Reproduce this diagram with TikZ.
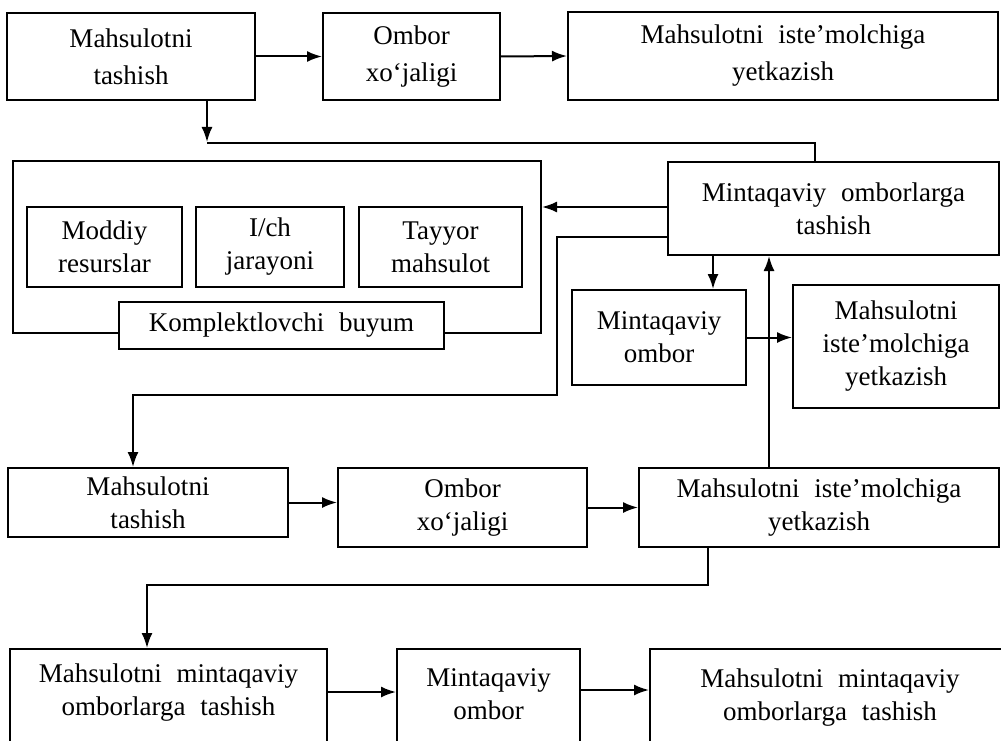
\documentclass[tikz,border=0pt]{standalone}
\usepackage{fontspec}
\setmainfont{Liberation Serif}
\usetikzlibrary{arrows.meta,calc}
\begin{document}
\begin{tikzpicture}[x=1pt,y=-1pt,
  bx/.style={draw, line width=2pt, fill=white, align=center, inner sep=0pt,
    font=\fontsize{27}{33}\selectfont},
  toprow/.style={font=\fontsize{27}{37}\selectfont},
  arr/.style={line width=2pt, -{Latex[length=15pt,width=11pt]}},
  ln/.style={line width=2pt}]
\useasboundingbox (0,0) rectangle (1001,741);
\clip (0,0) rectangle (1001,741);
\fill[white] (0,0) rectangle (1001,741);

% top row
\node[bx,toprow,minimum width=248pt,minimum height=87pt] (A) at (131,56.5) {Mahsulotni\\tashish};
\node[bx,toprow,minimum width=177pt,minimum height=87pt] (B) at (411.5,56.5) {Ombor\\xo‘jaligi};
\node[bx,toprow,minimum width=430pt,minimum height=88pt] (C) at (783,56) {Mahsulotni\hspace{0.3em} iste’molchiga\\yetkazish};

% middle block
\node[bx,minimum width=528pt,minimum height=172pt] (O) at (277,247) {};
\node[bx,minimum width=155pt,minimum height=80pt] (M1) at (104.5,247) {Moddiy\\resurslar};
\node[bx,minimum width=148pt,minimum height=80pt] (M2) at (270,247) {I/ch\\jarayoni};
\node[bx,minimum width=163pt,minimum height=80pt] (M3) at (440.5,247) {Tayyor\\mahsulot};
\node[bx,minimum width=325pt,minimum height=47pt] (KB) at (281.5,325.5) {Komplektlovchi\hspace{0.3em} buyum};

\node[bx,minimum width=331pt,minimum height=93pt] (D) at (833.5,208.5) {Mintaqaviy\hspace{0.3em} omborlarga\\tashish};
\node[bx,minimum width=174pt,minimum height=95pt] (E) at (659,337.5) {Mintaqaviy\\ombor};
\node[bx,minimum width=206pt,minimum height=123pt] (F) at (896,346.5) {Mahsulotni\\iste’molchiga\\yetkazish};

% lower row
\node[bx,minimum width=280pt,minimum height=69pt] (G) at (148,502.5) {Mahsulotni\\tashish};
\node[bx,minimum width=249pt,minimum height=79pt] (H) at (462.5,507.5) {Ombor\\xo‘jaligi};
\node[bx,minimum width=360pt,minimum height=79pt] (I) at (819,507.5) {Mahsulotni\hspace{0.3em} iste’molchiga\\yetkazish};

% bottom row (boxes run past the lower edge)
\node[bx,anchor=north,minimum width=317pt,inner ysep=15pt] (J) at (168.5,648) {Mahsulotni\hspace{0.3em} mintaqaviy\\omborlarga\hspace{0.3em} tashish\\~\\~\\~};
\node[bx,anchor=north,minimum width=183pt,inner ysep=20pt] (K) at (488.5,648) {Mintaqaviy\\ombor\\~\\~\\~};
\node[bx,anchor=north,minimum width=360pt,inner ysep=20pt] (L) at (830,648) {Mahsulotni\hspace{0.3em} mintaqaviy\\omborlarga\hspace{0.3em} tashish\\~\\~\\~};

% helper coordinates
\coordinate (a1) at (207,142);
\coordinate (d1) at (815,143);
\coordinate (p0) at (557,237);
\coordinate (p1) at (557,395);
\coordinate (p2) at (133,395);
\coordinate (xe) at (713,0);
\coordinate (xu) at (769,0);
\coordinate (q1) at (708,585);
\coordinate (q2) at (147,585);
\coordinate (r1) at (0,692);
\coordinate (r2) at (0,690);
\coordinate (ya) at (0,207);

% connectors
\draw[arr] (A.east) -- (B.west);
\draw[arr] (B.east) -- (C.west);
\draw[arr] (A.south -| a1) -- (a1);
\draw[ln] (a1 |- d1) -- (d1) -- (d1 |- D.north);
\draw[arr] (D.west |- ya) -- (O.east |- ya);
\draw[arr] (D.west |- p0) -- (p0) -- (p1) -- (p2) -- (p2 |- G.north);
\draw[arr] (xe |- D.south) -- (xe |- E.north);
\draw[arr] (xu |- I.north) -- (xu |- D.south);
\draw[arr] (E.east) -- (E.east -| F.west);
\draw[arr] (G.east) -- (G.east -| H.west);
\draw[arr] (H.east) -- (H.east -| I.west);
\draw[arr] (q1 |- I.south) -- (q1) -- (q2) -- (q2 |- J.north);
\draw[arr] (r1 -| J.east) -- (r1 -| K.west);
\draw[arr] (r2 -| K.east) -- (r2 -| L.west);
\end{tikzpicture}
\end{document}
